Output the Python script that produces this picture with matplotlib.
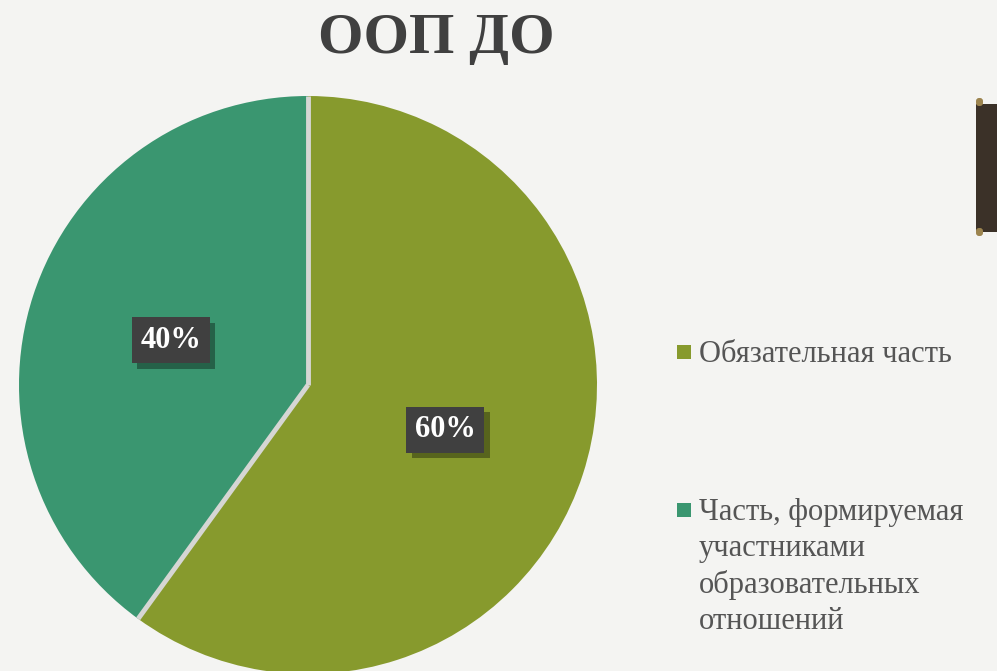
import matplotlib
matplotlib.use("Agg")
import numpy as np
import matplotlib.pyplot as plt
import matplotlib.patheffects as pe
from matplotlib.patches import Rectangle, FancyBboxPatch

# data
title = "ООП ДО"
labels = ["Обязательная часть",
          "Часть, формируемая\nучастниками\nобразовательных\nотношений"]
values = [60, 40]
colors = ["#879a2d", "#3a9670"]

W, H = 997, 671
bg = "#f4f4f2"
fig = plt.figure(figsize=(W / 100, H / 100), dpi=100)
fig.patch.set_facecolor(bg)
ax = fig.add_axes([0, 0, 1, 1])
ax.set_facecolor(bg)

cx, cy, r = 308, H - 385, 289
wedges, texts, autotexts = ax.pie(
    values, colors=colors, startangle=90, counterclock=False,
    center=(cx, cy), radius=r,
    autopct="%d%%", pctdistance=0.5,
    wedgeprops=dict(edgecolor="none", linewidth=0),
    textprops=dict(color="white", fontsize=22, fontweight="bold",
                   family="Liberation Serif"))

# light separators between slices
for w in wedges:
    a = np.deg2rad(w.theta1)
    ax.plot([cx, cx + r * np.cos(a)], [cy, cy + r * np.sin(a)],
            color="#d6d6d4", lw=3.5, solid_capstyle="butt", zorder=3)

for t in autotexts:
    t.set_bbox(dict(boxstyle="square,pad=0.28", fc="#404040", ec="none"))
    t.set_va("center")
    t.set_zorder(5)
    t.get_bbox_patch().set_path_effects(
        [pe.SimplePatchShadow(offset=(4, -4), shadow_rgbFace="black", alpha=0.35),
         pe.Normal()])

ax.set_xlim(0, W)
ax.set_ylim(0, H)
ax.axis("off")

# title
ax.text(436, H - 39, title, ha="center", va="center", fontsize=42,
        fontweight="bold", color="#404040", family="Liberation Serif")

# legend
leg_y = [352, 510]
for lab, col, y in zip(labels, colors, leg_y):
    ax.add_patch(Rectangle((677, H - y - 7), 14, 14, fc=col, ec="none"))
    ax.text(699, H - y + 12, lab, ha="left", va="top", fontsize=22,
            color="#555555", family="Liberation Serif", linespacing=1.32)

# decorative tab on right edge
ax.add_patch(Rectangle((976, H - 232), 25, 128, fc="#3b3128", ec="none"))
ax.add_patch(FancyBboxPatch((976, H - 106), 7, 8, boxstyle="round,pad=0,rounding_size=3",
                            fc="#9c844f", ec="none"))
ax.add_patch(FancyBboxPatch((976, H - 236), 7, 8, boxstyle="round,pad=0,rounding_size=3",
                            fc="#9c844f", ec="none"))

fig.savefig("out.png", dpi=100, facecolor=fig.get_facecolor())
